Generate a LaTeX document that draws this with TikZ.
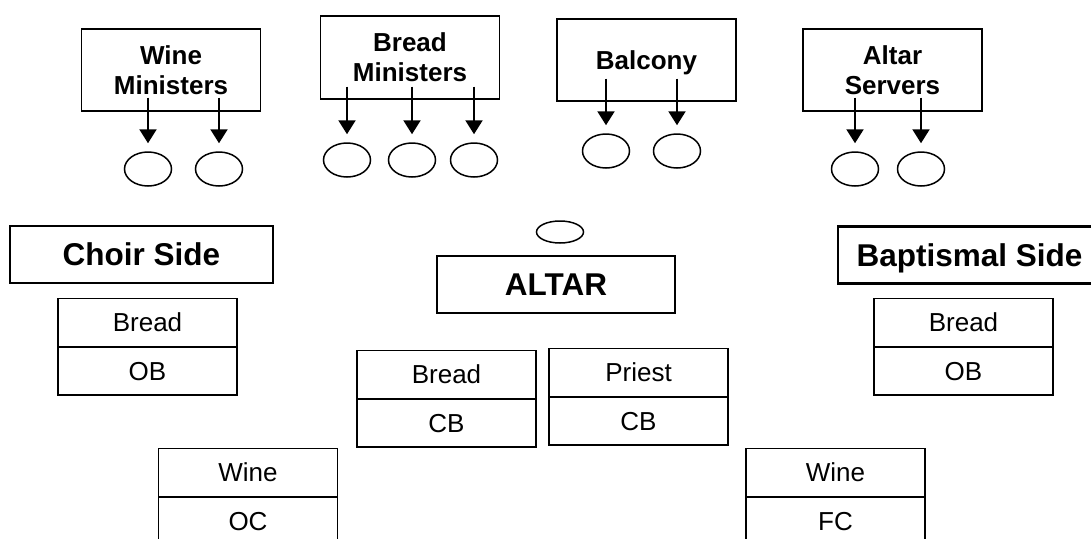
\documentclass[tikz,border=0pt]{standalone}
\usepackage{fontspec}
\setmainfont{Liberation Sans}
\usepackage{tikz}
\usetikzlibrary{positioning,shapes,arrows.meta}

\begin{document}
\begin{tikzpicture}[x=1pt,y=-1pt,>={Triangle[length=14pt,width=17pt]},
  group/.style={draw,rectangle,line width=1.2pt,minimum width=179pt,minimum height=82pt,inner sep=0pt,text depth=0pt,align=center,font=\fontsize{26}{30}\selectfont\bfseries},
  side/.style={draw,rectangle,line width=2.5pt,minimum width=263pt,minimum height=57pt,inner sep=0pt,text depth=0pt,font=\fontsize{31.5}{36}\selectfont\bfseries},
  cell/.style={draw,rectangle,line width=1.2pt,minimum width=179pt,minimum height=47.5pt,inner sep=0pt,font=\fontsize{26}{30}\selectfont},
  seat/.style={draw,ellipse,line width=1.5pt,minimum width=47pt,minimum height=34pt,inner sep=0pt},
  feed/.style={->,line width=2.2pt,shorten >=8pt}]
  \useasboundingbox (0,0) rectangle (1091,538);

  % Ministers and servers along the top
  
\node[group] (wine) at (171,70) {Wine\\Ministers};
  
\node[group,minimum height=83pt] (bread) at (410,57.5) {Bread\\Ministers};
  
\node[group] (balc) at (646.5,60) {Balcony};
  
\node[group] (serv) at (892.5,70) {Altar\\Servers};

  % Seats under each group
  
\node[seat] (wine1) at (148,169) {};
\node[seat] (wine2) at (219,169) {};
  
\node[seat] (bread1) at (347,160) {};
\node[seat] (bread2) at (412,160) {};
\node[seat] (bread3) at (474,160) {};
  
\node[seat] (balc1) at (606,151) {};
\node[seat] (balc2) at (677,151) {};
  
\node[seat] (serv1) at (855,169) {};
\node[seat] (serv2) at (921,169) {};

  % Sides and altar
  
\node[side] (choir) at (141.5,254.5) {Choir Side};
  
\node[side,minimum width=238pt] (altar) at (556,284.5) {ALTAR};
  
\node[seat,minimum height=22pt] (host) at (560,232) {};
  
\node[side] (bapt) at (969.5,255) {Baptismal Side};

  % Stations
  
\node[cell] (cbread) at (147.5,322.5) {Bread};
\node[cell,below=0pt of cbread] (cob) {OB};
  
\node[cell] (abread) at (446.5,374.5) {Bread};
\node[cell,below=0pt of abread] (acb) {CB};
  
\node[cell] (priest) at (638.5,372.5) {Priest};
\node[cell,below=0pt of priest] (pcb) {CB};
  
\node[cell] (bbread) at (963.5,322.5) {Bread};
\node[cell,below=0pt of bbread] (bob) {OB};
  
\node[cell] (cwine) at (248,472.5) {Wine};
\node[cell,below=0pt of cwine] (coc) {OC};
  
\node[cell] (bwine) at (835.5,472.5) {Wine};
\node[cell,below=0pt of bwine] (bfc) {FC};

  % Arrows to seats
  \draw[feed,shorten <=-14pt] (wine1.north |- wine.south) -- (wine1.north);
  \draw[feed,shorten <=-14pt] (wine2.north |- wine.south) -- (wine2.north);
  \draw[feed,shorten <=-13pt] (bread1.north |- bread.south) -- (bread1.north);
  \draw[feed,shorten <=-13pt] (bread2.north |- bread.south) -- (bread2.north);
  \draw[feed,shorten <=-13pt] (bread3.north |- bread.south) -- (bread3.north);
  \draw[feed,shorten <=-23pt] (balc1.north |- balc.south) -- (balc1.north);
  \draw[feed,shorten <=-23pt] (balc2.north |- balc.south) -- (balc2.north);
  \draw[feed,shorten <=-14pt] (serv1.north |- serv.south) -- (serv1.north);
  \draw[feed,shorten <=-14pt] (serv2.north |- serv.south) -- (serv2.north);
\end{tikzpicture}
\end{document}
